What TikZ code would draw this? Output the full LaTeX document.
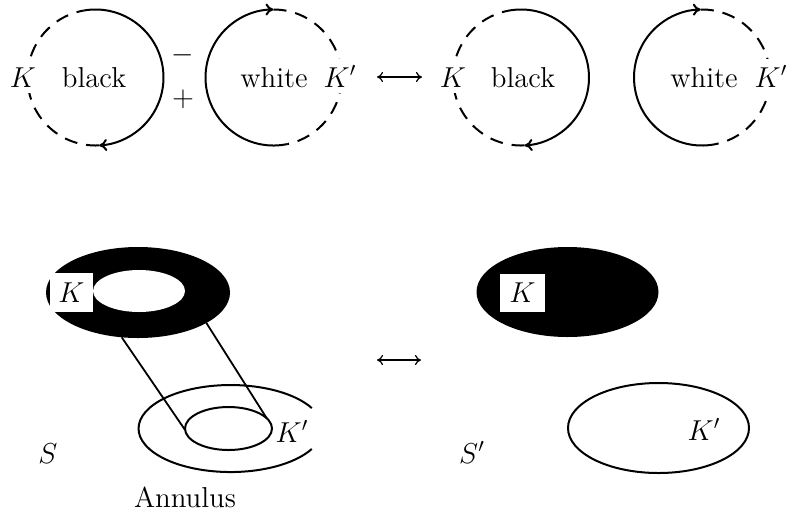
\documentclass[tikz,border=0pt]{standalone}
\usetikzlibrary{shapes.geometric,arrows.meta}
\begin{document}
\begin{tikzpicture}[x=0.5pt,y=0.5pt,
  lw/.style={line width=1pt},
  solidarc/.style={line width=1pt,-{To[length=4pt,width=6pt]}},
  dsh/.style={line width=1pt, dash pattern=on 6.5pt off 4.5pt},
  txt/.style={font=\Large, anchor=base, inner sep=0pt},
  lbl/.style={font=\Large, anchor=base, fill=white, inner sep=3pt},
  kbox/.style={font=\Large, fill=white, inner sep=0pt},
  dbl/.style={line width=0.6pt,{To[length=3pt,width=5pt]}-{To[length=3pt,width=5pt]}},
  blk/.style={ellipse, fill=black, inner sep=0pt, outer sep=0pt, minimum width=92pt, minimum height=45.5pt},
  ring/.style={ellipse, draw, line width=1pt, inner sep=0pt, outer sep=0pt},
  leg/.style={line width=0.9pt}
]
\useasboundingbox (0,0) rectangle (791,-515);

% ---------- top row ----------
\coordinate (c1) at (95.5,-77.5);
\coordinate (c2) at (273.5,-77.5);
\coordinate (c3) at (521,-77.5);
\coordinate (c4) at (702,-77.5);

\draw[solidarc] (c1) ++(100:68) arc[start angle=100,end angle=-87,radius=68];
\draw[dsh] (c1) ++(-87:68) arc[start angle=-87,end angle=-260,radius=68];

\draw[solidarc] (c2) ++(-78:68) arc[start angle=-78,end angle=-270,radius=68];
\draw[dsh] (c2) ++(90:68) arc[start angle=90,end angle=-78,radius=68];

\draw[solidarc] (c3) ++(100:68) arc[start angle=100,end angle=-87,radius=68];
\draw[dsh] (c3) ++(-87:68) arc[start angle=-87,end angle=-260,radius=68];

\draw[solidarc] (c4) ++(-80:68) arc[start angle=-80,end angle=-269,radius=68];
\draw[dsh] (c4) ++(91:68) arc[start angle=91,end angle=-80,radius=68];

\node[lbl] (k1) at (23,-87) {$K$};
\node[txt] (bl1) at (94,-87) {black};
\node[txt] (mi) at (183,-62) {$-$};
\node[txt] (pl) at (183,-106) {$+$};
\node[txt] (wh2) at (274,-87) {white};
\node[lbl] (kp2) at (340,-87) {$K'$};

\coordinate (la) at (377,-77);
\coordinate (ra) at (422,-77);
\draw[dbl] (la) -- (ra);

\node[lbl] (k3) at (453,-87) {$K$};
\node[txt] (bl3) at (523,-87) {black};
\node[txt] (wh4) at (704,-87) {white};
\node[lbl] (kp4) at (771,-87) {$K'$};

% ---------- bottom left ----------
\node[blk] (bk1) at (138,-292.5) {};
\node[ellipse, fill=white, inner sep=0pt, outer sep=0pt, minimum width=46pt, minimum height=21pt] (hole) at (139,-291) {};
\node[kbox, minimum width=21.5pt, minimum height=19.5pt] (kb1) at (71.5,-292.5) {$K$};

\draw[lw] (311.8,-408.1) arc[start angle=28,end angle=332,x radius=92,y radius=43.5];
\node[ring, minimum width=43.5pt, minimum height=21.5pt] (ain) at (228.5,-428.5) {};

\draw[leg] (bk1.250.8) -- (ain.182);
\draw[leg] (bk1.-24.6) -- (ain.15.5);

\node[txt] (kpa) at (292,-442) {$K'$};
\node[txt] (s) at (48,-463) {$S$};
\node[txt] (ann) at (185,-507) {Annulus};

% ---------- middle arrow ----------
\coordinate (lb) at (377,-360);
\coordinate (rb) at (421,-360);
\draw[dbl] (lb) -- (rb);

% ---------- bottom right ----------
\node[blk, minimum width=91pt, minimum height=45pt] (bk2) at (567.5,-292) {};
\node[kbox, minimum width=22.5pt, minimum height=19pt] (kb2) at (522.5,-293) {$K$};
\node[ring, minimum width=90.5pt, minimum height=45pt] (ell2) at (658.5,-428) {};
\node[txt] (kpr) at (704,-440) {$K'$};
\node[txt] (sp) at (472,-463) {$S'$};
\end{tikzpicture}
\end{document}
